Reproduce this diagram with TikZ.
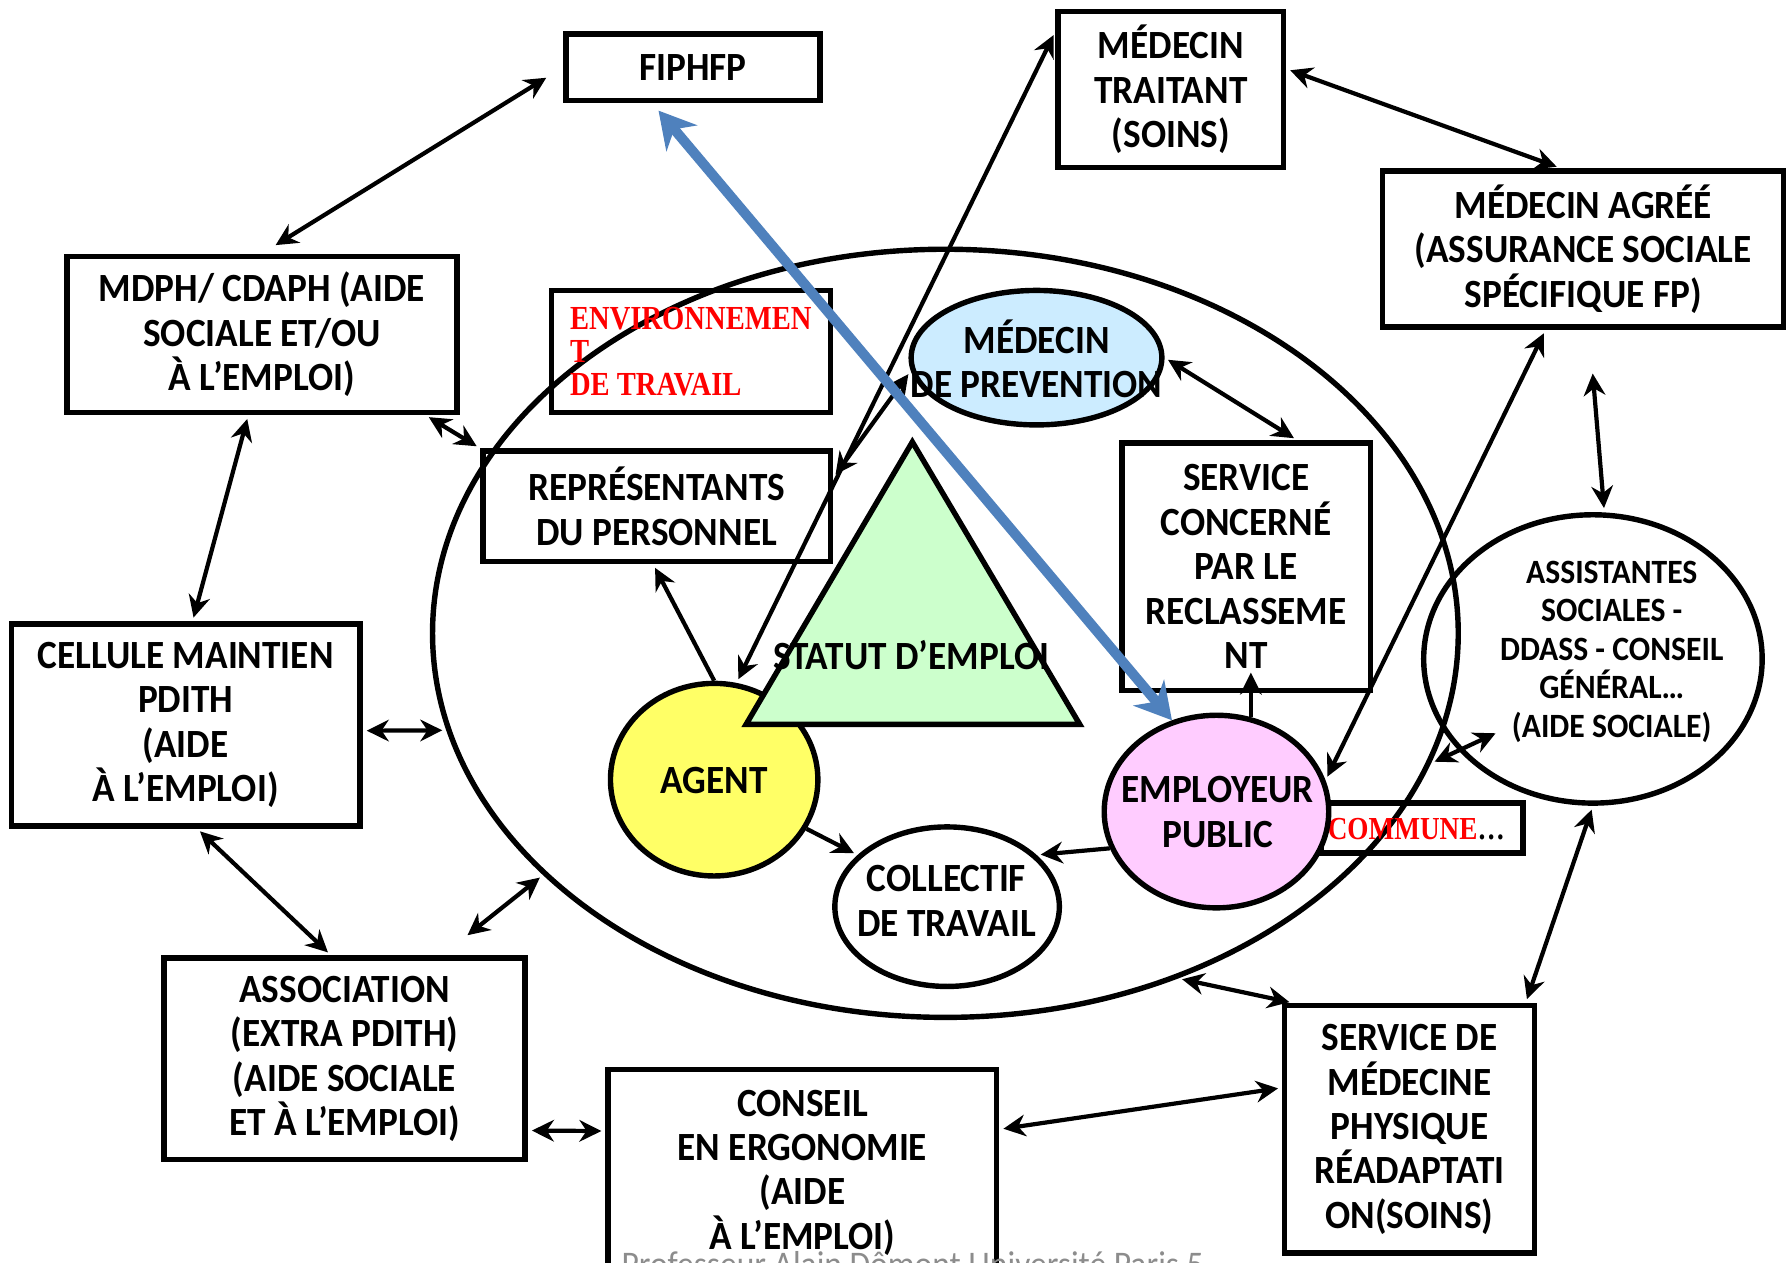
\documentclass[tikz,border=0pt]{standalone}
\usepackage{fontspec}
\setmainfont{Carlito}[FakeStretch=0.93]
\newfontfamily\serifred{Liberation Serif}[FakeStretch=0.85]
\usetikzlibrary{arrows.meta,shapes.geometric}

\definecolor{bleuprev}{RGB}{204,236,255}
\definecolor{vertstatut}{RGB}{204,255,204}
\definecolor{jauneagent}{RGB}{255,255,102}
\definecolor{roseemp}{RGB}{255,204,255}
\definecolor{bleufleche}{RGB}{79,129,189}

\begin{document}
\begin{tikzpicture}[x=0.01cm,y=-0.01cm,>={Stealth[length=5.5pt,width=5.4pt]},
  every node/.style={font=\bfseries\fontsize{10}{11.1}\selectfont},
  cadre/.style={draw,line width=1.35pt,align=center,inner sep=0pt},
  bulle/.style={draw,ellipse,line width=1.35pt,inner sep=0pt},
  texte/.style={align=center,inner sep=0pt},
  rouge/.style={text=red,font=\serifred\bfseries\fontsize{8.4}{8.2}\selectfont},
  lien/.style={<->,line width=1.05pt,shorten <=1pt,shorten >=1pt},
  fleche/.style={->,line width=1.05pt,shorten >=1pt},
  bleu/.style={<->,>={Stealth[length=9pt,width=10pt]},line width=2.5pt,draw=bleufleche,shorten >=2.5pt}]
\useasboundingbox (0,0) rectangle (1568,1108);
\clip (0,0) rectangle (1568,1108);

% le milieu de travail
\node[bulle,minimum width=9cm,minimum height=6.74cm] (milieu) at (830,556) {};

% les acteurs
\node[cadre,minimum width=2.23cm,minimum height=0.58cm] (fiphfp) at (608.5,59) {FIPHFP};
\node[cadre,minimum width=1.98cm,minimum height=1.37cm] (traitant) at (1028,78.5) {MÉDECIN\\TRAITANT\\(SOINS)};
\node[cadre,minimum width=3.52cm,minimum height=1.37cm] (agree) at (1390,218.5) {MÉDECIN AGRÉÉ\\(ASSURANCE SOCIALE\\SPÉCIFIQUE FP)};
\node[cadre,minimum width=3.42cm,minimum height=1.37cm] (mdph) at (230,293.5) {MDPH/ CDAPH (AIDE\\SOCIALE ET/OU\\À L’EMPLOI)};
\node[cadre,align=left,minimum width=2.45cm,minimum height=1.07cm,rouge] (envt) at (606.5,308.5) {ENVIRONNEMEN\\T\\DE TRAVAIL};
\node[cadre,minimum width=3.05cm,minimum height=0.97cm] (repres) at (576.5,444.5) {REPRÉSENTANTS\\DU PERSONNEL};
\node[cadre,minimum width=2.18cm,minimum height=2.17cm] (service) at (1094,497.5) {SERVICE\\CONCERNÉ\\PAR LE\\RECLASSEME\\NT};
\node[cadre,minimum width=3.06cm,minimum height=1.77cm] (cellule) at (163,636.5) {CELLULE MAINTIEN\\PDITH\\(AIDE\\À L’EMPLOI)};
\node[cadre,minimum width=3.17cm,minimum height=1.77cm] (assoc) at (302.5,929.5) {ASSOCIATION\\(EXTRA PDITH)\\(AIDE SOCIALE\\ET À L’EMPLOI)};
\node[cadre,minimum width=3.41cm,minimum height=1.81cm] (conseil) at (704.5,1029.5) {CONSEIL\\EN ERGONOMIE\\(AIDE\\À L’EMPLOI)};
\node[cadre,minimum width=2.19cm,minimum height=2.17cm] (mpr) at (1237.5,991.5) {SERVICE DE\\MÉDECINE\\PHYSIQUE\\RÉADAPTATI\\ON(SOINS)};
\node[cadre,minimum width=1.77cm,minimum height=0.44cm] (commune) at (1248.5,727) {};
\node[anchor=west,inner sep=0pt,rouge,font=\serifred\bfseries\fontsize{8}{8}\selectfont] (communetxt) at (1165,728) {COMMUNE\textcolor{black}{…}};

\node[bulle,fill=bleuprev,minimum width=2.2cm,minimum height=1.18cm] (prevention) at (910,314) {};
\node[bulle,fill=jauneagent,minimum width=1.82cm,minimum height=1.69cm] (agent) at (627,684.5) {};
\filldraw[fill=vertstatut,line width=1.35pt] (801,388) -- (948,636) -- (655,636) -- cycle;
\node[bulle,fill=roseemp,minimum width=1.97cm,minimum height=1.69cm] (employeur) at (1068,712.5) {};
\node[bulle,fill=white,minimum width=1.97cm,minimum height=1.4cm] (collectif) at (831.5,796) {};
\node[bulle,minimum width=2.97cm,minimum height=2.53cm] (assist) at (1398.5,578.5) {};

\node[texte] (preventiontxt) at (910,315) {MÉDECIN\\DE PREVENTION};
\node[texte] (statut) at (800,575) {STATUT D’EMPLOI};
\node[texte] (agenttxt) at (627,685) {AGENT};
\node[texte] (employeurtxt) at (1069,713) {EMPLOYEUR\\PUBLIC};
\node[texte] (collectiftxt) at (831,791) {COLLECTIF\\DE TRAVAIL};
\node[texte,font=\bfseries\fontsize{8.5}{9.6}\selectfont] (assisttxt) at (1415,572) {ASSISTANTES\\SOCIALES -\\DDASS - CONSEIL\\GÉNÉRAL…\\(AIDE SOCIALE)};

% les liens
\draw[lien,shorten <=5pt,shorten >=4pt] (fiphfp.west) -- (mdph.north);
\draw[lien] ([xshift=-0.3cm]mdph.south east) -- (repres.north west);
\draw[lien] ([xshift=-0.12cm]mdph.south) -- ([xshift=0.06cm]cellule.north);
\draw[lien] ([yshift=-0.05cm]cellule.east) -- (milieu.191);
\draw[lien] ([xshift=0.1cm]cellule.south) -- ([xshift=-0.12cm]assoc.north);
\draw[lien,shorten <=8pt] ([xshift=-0.75cm]assoc.north east) -- (milieu.211);
\draw[lien] ([yshift=-0.63cm]assoc.east) -- ([yshift=0.365cm]conseil.west);
\draw[lien] ([yshift=0.38cm]conseil.east) -- ([yshift=0.365cm]mpr.west);
\draw[lien] ([xshift=0.1cm]mpr.north west) -- (milieu.304);
\draw[lien] ([xshift=-0.1cm]mpr.north east) -- (assist.south);
\draw[lien] ([yshift=0.1cm]assisttxt.south west) -- (milieu.345);
\draw[lien] ([xshift=0.08cm,yshift=-0.35cm]agree.south) -- ([xshift=0.1cm]assist.north);
\draw[lien] ([yshift=0.18cm]traitant.east) -- ([xshift=-0.2cm]agree.north);
\draw[lien] (employeur.16) -- ([xshift=-0.33cm]agree.south);
\draw[lien] (agent.77) -- ([yshift=-0.2cm]traitant.north west);
\draw[lien] ([yshift=0.25cm]repres.east) -- (prevention.186);
\draw[lien] (prevention.east) -- ([xshift=0.45cm]service.north);
\draw[fleche] (agent.north) -- ([xshift=-0.03cm]repres.south);
\draw[fleche] (agent.332) -- (collectif.150);
\draw[fleche] (employeur.199) -- (collectif.30);
\draw[fleche,shorten >=-0.18cm] (employeur.70) -- (employeur.70 |- service.south);
\draw[bleu] (employeur.116) -- ([xshift=-0.36cm]fiphfp.south);

\node[anchor=base west,inner sep=0pt,text=black!45,font=\mdseries\fontsize{9}{10}\selectfont] (pied) at (545,1121) {Professeur Alain Dômont Université Paris 5};
\end{tikzpicture}
\end{document}
